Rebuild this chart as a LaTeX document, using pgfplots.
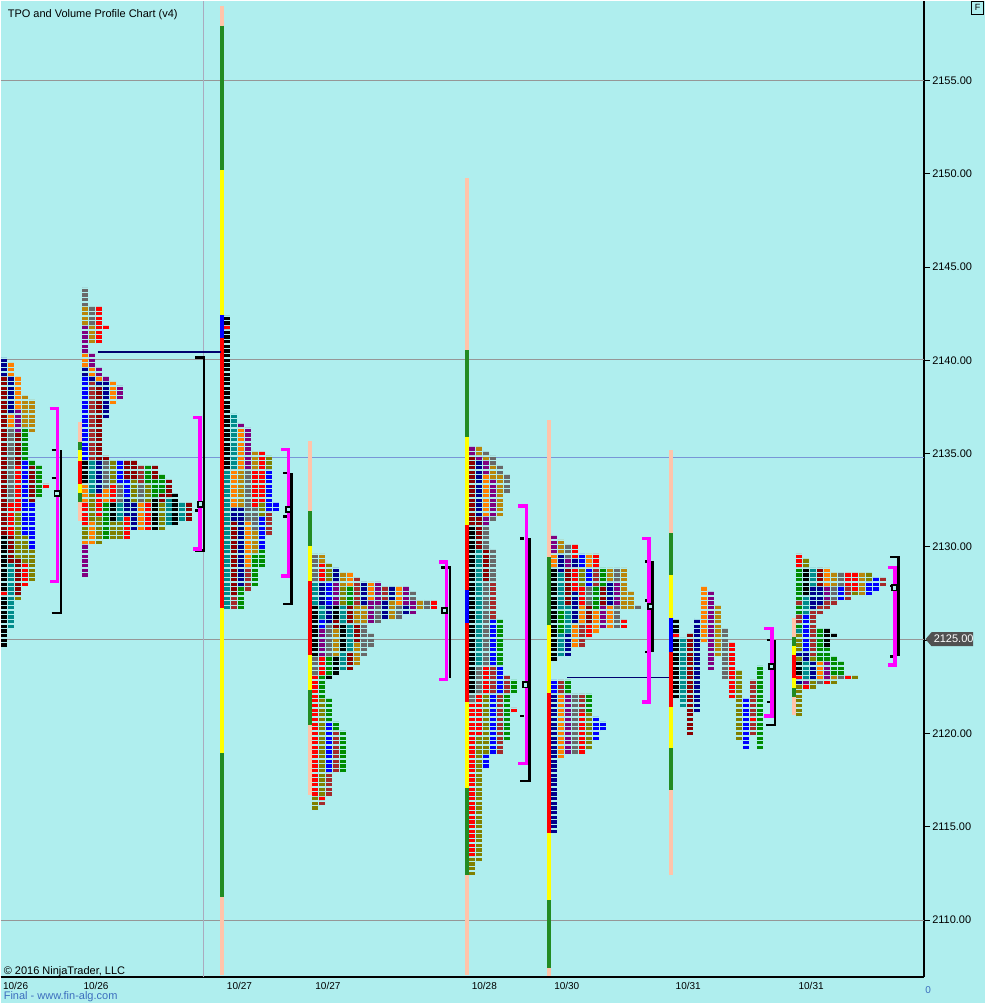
\documentclass[border=0pt]{standalone}
\usepackage{pgfplots}
\pgfplotsset{compat=1.18}
\usepackage{fontspec}
\setmainfont{Liberation Sans}
\definecolor{bg}{RGB}{175,238,238}
\definecolor{cblack}{RGB}{0,0,0}
\definecolor{cteal}{RGB}{0,139,139}
\definecolor{cdarkred}{RGB}{139,0,0}
\definecolor{cnavy}{RGB}{0,0,139}
\definecolor{corange}{RGB}{255,128,0}
\definecolor{cpurple}{RGB}{128,0,128}
\definecolor{cgold}{RGB}{184,134,11}
\definecolor{cgray}{RGB}{105,105,105}
\definecolor{cred}{RGB}{255,0,0}
\definecolor{colive}{RGB}{128,128,0}
\definecolor{cblue}{RGB}{0,0,255}
\definecolor{cbrown}{RGB}{165,42,42}
\definecolor{cgreen}{RGB}{0,140,0}
\definecolor{bgreen}{RGB}{34,139,34}
\definecolor{byellow}{RGB}{255,255,0}
\definecolor{bsalmon}{RGB}{255,196,170}
\definecolor{bmag}{RGB}{255,0,255}
\definecolor{gridgray}{RGB}{150,150,150}
\definecolor{gridblue}{RGB}{120,150,215}
\definecolor{sepline}{RGB}{170,170,190}
\definecolor{pocline}{RGB}{0,0,110}
\definecolor{taggray}{RGB}{80,80,80}
\definecolor{sitecol}{RGB}{60,110,190}

\pgfdeclareplotmark{tpo}{%
  \pgfsetbuttcap
  \pgfsetlinewidth{6bp}%
  \pgfsetdash{{3.3bp}{1.36667bp}}{0bp}%
  \pgfpathmoveto{\pgfqpoint{0bp}{-1.65bp}}%
  \pgfpathlineto{\pgfpoint{0bp}{\tpon*4.66667bp-1.65bp}}%
  \pgfusepathqstroke
}
\pgfplotsset{
  tpo/.style={only marks, scatter, mark=tpo, color=#1,
    scatter/@pre marker code/.code={},
    scatter/@post marker code/.code={},
    visualization depends on={value \thisrow{n}\as\tpon}},
}
\newcommand{\pb}[4]{\addplot[draw=#1, line width=4bp] coordinates {(#2,#3) (#2,#4)};}

\begin{document}
\begin{tikzpicture}
\fill[bg] (0,0) rectangle (985bp,1003bp);
\begin{axis}[at={(0bp,26bp)}, anchor=south west, width=924bp, height=977bp, scale only axis,
  xmin=0, xmax=924, ymin=2106.94643, ymax=2159.28571, clip=false,
  axis x line*=bottom, axis y line*=right, axis line style={-, black, line width=1.2bp},
  ytick={2110,2115,2120,2125,2130,2135,2140,2145,2150,2155},
  yticklabels={2110.00,2115.00,2120.00,2125.00,2130.00,2135.00,2140.00,2145.00,2150.00,2155.00},
  ytick pos=right, yticklabel pos=right,
  major tick length=6bp, tick align=outside,
  y tick style={black, line width=1bp},
  yticklabel style={anchor=west, inner sep=0pt, xshift=2bp, font=\fontsize{11bp}{13bp}\selectfont},
  xtick={15,95.5,239,327.5,484,566.5,688,811},
  xticklabels={10/26,10/26,10/27,10/27,10/28,10/30,10/31,10/31},
  x tick style={draw=none},
  xticklabel style={anchor=base, inner sep=0pt, yshift=-6.3bp, font=\fontsize{10bp}{12bp}\selectfont},
]
% level lines
\addplot[gridgray, line width=1bp] coordinates {(0,2155) (924,2155)};
\addplot[gridgray, line width=1bp] coordinates {(0,2140.04) (924,2140.04)};
\addplot[gridblue, line width=1bp] coordinates {(0,2134.79) (924,2134.79)};
\addplot[gridgray, line width=1bp] coordinates {(0,2125.04) (924,2125.04)};
\addplot[gridgray, line width=1bp] coordinates {(0,2110) (924,2110)};
\addplot[sepline, line width=1bp] coordinates {(203,2106.95) (203,2159.28)};
% period bars
\pb{bsalmon}{79}{2136.7}{2135.6}\pb{bgreen}{79}{2135.6}{2135.2}\pb{byellow}{79}{2135.2}{2134.6}
\pb{cred}{79}{2134.6}{2133.4}\pb{byellow}{79}{2133.4}{2132.9}\pb{bgreen}{79}{2132.9}{2132.4}\pb{bsalmon}{79}{2132.4}{2131.4}
\pb{bsalmon}{222}{2159.0}{2157.95}\pb{bgreen}{222}{2157.95}{2150.18}\pb{byellow}{222}{2150.18}{2142.41}
\pb{cblue}{222}{2142.41}{2141.18}\pb{cred}{222}{2141.18}{2126.71}\pb{byellow}{222}{2126.71}{2118.95}
\pb{bgreen}{222}{2118.95}{2111.23}\pb{bsalmon}{222}{2111.23}{2107.05}
\pb{bsalmon}{310}{2135.66}{2131.91}\pb{bgreen}{310}{2131.91}{2130.04}\pb{byellow}{310}{2130.04}{2128.16}
\pb{cred}{310}{2128.16}{2124.2}\pb{byellow}{310}{2124.2}{2122.32}\pb{bgreen}{310}{2122.32}{2120.45}\pb{bsalmon}{310}{2120.45}{2116.7}
\pb{bsalmon}{467}{2149.75}{2140.54}\pb{bgreen}{467}{2140.54}{2135.88}\pb{byellow}{467}{2135.88}{2131.16}
\pb{cred}{467}{2131.16}{2127.68}\pb{cblue}{467}{2127.68}{2125.91}\pb{cred}{467}{2125.91}{2121.68}
\pb{byellow}{467}{2121.68}{2117.07}\pb{bgreen}{467}{2117.07}{2112.41}\pb{bsalmon}{467}{2112.41}{2107.05}
\pb{bsalmon}{549}{2136.79}{2129.45}\pb{bgreen}{549}{2129.45}{2125.8}\pb{byellow}{549}{2125.8}{2122.16}
\pb{cred}{549}{2122.16}{2114.66}\pb{byellow}{549}{2114.66}{2111.07}\pb{bgreen}{549}{2111.07}{2107.43}\pb{bsalmon}{549}{2107.43}{2107.0}
\pb{bsalmon}{671}{2135.18}{2130.73}\pb{bgreen}{671}{2130.73}{2128.48}\pb{byellow}{671}{2128.48}{2126.18}
\pb{cblue}{671}{2126.18}{2124.36}\pb{cred}{671}{2124.36}{2121.41}\pb{byellow}{671}{2121.41}{2119.21}
\pb{bgreen}{671}{2119.21}{2116.96}\pb{bsalmon}{671}{2116.96}{2112.41}
\pb{bsalmon}{794}{2126.18}{2125.16}\pb{bgreen}{794}{2125.16}{2124.68}\pb{byellow}{794}{2124.68}{2124.2}
\pb{cred}{794}{2124.2}{2122.96}\pb{byellow}{794}{2122.96}{2122.43}\pb{bgreen}{794}{2122.43}{2121.95}\pb{bsalmon}{794}{2121.95}{2120.98}
% TPO cells: x = column centre, y = lowest price of run, n = cells
\addplot[tpo=cblack] table[row sep=\\]{x y n\\
3.5 2124.75 11\\ 3.5 2127.75 12\\ 84 2133.5 5\\ 112 2131.5 4\\ 154 2131.0 7\\ 175 2131.25 7\\
227 2134.25 30\\ 227 2142.0 2\\ 315 2124.25 11\\ 329 2123.0 1\\ 336 2123.25 4\\ 336 2126.25 3\\
343 2124.5 6\\ 472 2122.25 36\\ 554 2124.0 20\\ 676 2122.0 13\\ 676 2125.5 3\\ 799 2123.25 3\\
806 2127.5 6\\ 827 2124.75 4\\ 834 2125.25 1\\};
\addplot[tpo=cteal] table[row sep=\\]{x y n\\
10.5 2125.75 14\\ 91 2133.0 7\\ 119 2131.5 4\\ 168 2131.25 6\\ 182 2131.5 4\\ 227 2126.75 30\\
234 2134.25 12\\ 315 2127.0 5\\ 322 2126.25 3\\ 343 2123.5 4\\ 343 2126.0 4\\ 350 2124.5 6\\
479 2123.75 25\\ 561 2124.25 5\\ 561 2126.75 8\\ 568 2125.5 6\\ 683 2121.5 15\\ 799 2125.5 1\\
806 2123.0 4\\ 806 2126.5 4\\ 813 2128.0 4\\};
\addplot[tpo=cdarkred] table[row sep=\\]{x y n\\
3.5 2130.75 34\\ 10.5 2129.25 6\\ 17.5 2127.5 8\\ 17.5 2134.5 7\\ 31.5 2132.5 8\\ 98 2134.75 16\\
105 2134.75 1\\ 126 2133.75 4\\ 133 2133.75 4\\ 154 2133.75 3\\ 161 2132.5 2\\ 168 2132.75 4\\
189 2131.5 4\\ 234 2127.5 16\\ 336 2125.75 2\\ 350 2123.5 4\\ 350 2126.0 4\\ 357 2125.0 4\\
472 2131.25 15\\ 479 2130.0 7\\ 486 2128.25 7\\ 568 2127.0 8\\ 589 2126.0 4\\ 603 2127.0 4\\
690 2120.0 22\\ 820 2128.0 4\\};
\addplot[tpo=cnavy] table[row sep=\\]{x y n\\
3.5 2139.25 4\\ 10.5 2137.25 8\\ 84 2139.25 2\\ 91 2139.0 1\\ 98 2133.0 7\\ 98 2138.75 1\\
105 2137.0 8\\ 126 2131.75 4\\ 133 2131.0 6\\ 234 2131.5 3\\ 241 2128.0 17\\ 322 2127.0 5\\
329 2126.0 4\\ 336 2128.25 3\\ 364 2127.0 5\\ 385 2126.25 4\\ 392 2127.25 3\\ 406 2126.5 2\\
479 2131.75 12\\ 554 2114.75 30\\ 568 2124.25 5\\ 575 2126.0 7\\ 575 2129.0 2\\ 561 2128.75 4\\
610 2127.0 5\\ 697 2121.25 20\\ 799 2122.75 1\\ 799 2124.25 1\\ 806 2124.0 2\\ 813 2123.0 4\\
813 2126.75 5\\ 820 2127.0 4\\};
\addplot[tpo=corange] table[row sep=\\]{x y n\\
10.5 2139.25 3\\ 10.5 2136.5 3\\ 17.5 2137.5 7\\ 84 2130.25 1\\ 84 2132.5 4\\ 84 2139.75 3\\
91 2130.25 5\\ 91 2139.25 2\\ 98 2139.0 1\\ 105 2132.5 3\\ 112 2137.75 5\\ 140 2131.0 6\\
234 2132.25 8\\ 241 2134.25 9\\ 248 2129.0 10\\ 350 2128.0 3\\ 371 2127.25 4\\ 399 2127.0 4\\
486 2131.75 9\\ 554 2129.0 3\\ 561 2118.75 14\\ 575 2124.75 5\\ 582 2126.0 4\\ 589 2129.0 3\\
596 2125.5 5\\ 610 2125.75 5\\ 704 2125.0 12\\ 820 2123.0 4\\ 827 2128.0 4\\};
\addplot[tpo=cpurple] table[row sep=\\]{x y n\\
17.5 2136.25 5\\ 84 2128.5 7\\ 84 2140.5 6\\ 91 2139.75 3\\ 98 2139.25 2\\ 105 2139.0 1\\
119 2138.0 3\\ 241 2136.5 1\\ 248 2134.25 9\\ 322 2124.25 6\\ 336 2127.0 5\\ 371 2126.0 5\\
378 2127.0 5\\ 406 2127.0 4\\ 413 2126.5 3\\ 472 2135.0 2\\ 479 2134.75 1\\ 486 2131.25 2\\
486 2134.0 3\\ 493 2131.75 8\\ 554 2129.75 4\\ 568 2119.0 13\\ 568 2129.0 2\\ 603 2125.75 5\\
617 2127.0 5\\ 711 2123.5 17\\ 806 2122.75 1\\ 827 2123.0 4\\ 827 2127.25 3\\};
\addplot[tpo=cgold] table[row sep=\\]{x y n\\
24.5 2136.5 7\\ 31.5 2136.25 7\\ 84 2142.0 4\\ 91 2141.0 4\\ 241 2132.25 8\\ 255 2129.75 5\\
255 2134.25 4\\ 322 2129.25 2\\ 336 2124.25 6\\ 343 2128.0 3\\ 357 2123.75 5\\ 357 2126.0 4\\
364 2126.0 4\\ 392 2126.25 4\\ 420 2126.75 2\\ 479 2135.0 2\\ 486 2134.75 1\\ 493 2133.75 3\\
500 2131.75 9\\ 561 2129.75 3\\ 610 2128.25 3\\ 624 2126.75 9\\ 631 2126.75 4\\ 718 2124.25 11\\
834 2123.0 1\\ 834 2128.0 3\\ 862 2127.5 5\\};
\addplot[tpo=cgray] table[row sep=\\]{x y n\\
10.5 2132.5 16\\ 84 2143.0 4\\ 91 2142.0 4\\ 105 2133.25 6\\ 119 2132.5 4\\ 140 2132.5 4\\
248 2131.5 11\\ 255 2131.0 5\\ 315 2123.25 4\\ 315 2128.25 6\\ 329 2124.25 7\\ 364 2124.25 7\\
371 2124.75 3\\ 378 2126.0 4\\ 399 2126.25 3\\ 413 2127.25 2\\ 427 2126.75 2\\ 472 2121.75 2\\
479 2122.25 6\\ 486 2123.75 18\\ 486 2130.0 5\\ 486 2135.0 1\\ 493 2128.25 7\\ 493 2131.5 1\\
493 2134.5 2\\ 500 2134.0 2\\ 507 2133.0 4\\ 568 2129.5 3\\ 575 2119.0 13\\ 589 2127.0 4\\
617 2125.75 5\\ 617 2128.25 3\\ 638 2126.75 1\\ 725 2123.0 11\\ 820 2122.75 1\\ 834 2127.25 3\\
841 2123.0 1\\ 841 2128.0 3\\};
\addplot[tpo=cred] table[row sep=\\]{x y n\\
3.5 2127.5 1\\ 10.5 2130.75 7\\ 17.5 2132.0 10\\ 24.5 2128.0 5\\ 45.5 2133.25 1\\ 84 2131.25 5\\
98 2131.75 5\\ 98 2141.0 8\\ 105 2141.75 1\\ 112 2132.5 4\\ 126 2130.5 5\\ 147 2131.0 6\\
227 2141.75 1\\ 255 2132.25 8\\ 262 2132.5 11\\ 315 2116.75 26\\ 322 2116.5 1\\ 322 2123.25 4\\
322 2128.25 4\\ 434 2126.75 2\\ 472 2113.5 33\\ 479 2120.0 9\\ 486 2122.25 6\\ 514 2121.25 1\\
575 2127.75 5\\ 575 2129.5 3\\ 582 2119.0 9\\ 582 2127.0 4\\ 589 2125.25 3\\ 596 2129.0 3\\
624 2125.75 2\\ 676 2125.25 1\\ 732 2122.0 12\\ 753 2120.75 1\\ 799 2123.0 1\\ 799 2129.0 3\\
806 2122.5 1\\ 827 2122.75 1\\ 848 2123.0 1\\ 848 2128.0 3\\ 855 2127.75 4\\};
\addplot[tpo=colive] table[row sep=\\]{x y n\\
17.5 2127.25 1\\ 17.5 2129.5 10\\ 24.5 2129.25 6\\ 31.5 2128.25 7\\ 84 2130.5 3\\ 91 2131.5 6\\
98 2130.25 6\\ 112 2130.5 4\\ 112 2133.5 5\\ 119 2130.5 4\\ 133 2132.5 5\\ 147 2132.5 4\\
161 2131.0 6\\ 262 2131.75 3\\ 269 2134.25 3\\ 315 2116.0 3\\ 322 2116.75 21\\ 329 2128.25 4\\
343 2127.0 4\\ 472 2112.5 4\\ 479 2113.25 27\\ 486 2119.0 13\\ 582 2128.0 4\\ 589 2119.25 8\\
739 2119.75 15\\ 799 2121.0 7\\ 799 2124.0 1\\ 799 2124.5 4\\ 806 2129.0 2\\ 813 2122.5 2\\
813 2124.0 1\\ 834 2122.75 1\\ 855 2123.0 1\\ 855 2127.5 1\\ 869 2128.25 2\\};
\addplot[tpo=cblue] table[row sep=\\]{x y n\\
24.5 2130.75 16\\ 31.5 2130.0 10\\ 84 2134.75 18\\ 119 2133.5 5\\ 126 2132.75 4\\ 262 2130.0 7\\
269 2132.0 9\\ 276 2132.0 2\\ 322 2125.75 2\\ 329 2118.0 11\\ 329 2127.0 5\\ 486 2118.25 3\\
493 2119.0 13\\ 493 2123.75 10\\ 500 2122.25 6\\ 554 2122.25 3\\ 582 2129.0 3\\ 589 2128.0 4\\
596 2119.75 5\\ 603 2120.25 2\\ 746 2119.25 11\\ 806 2124.5 8\\ 841 2127.25 3\\ 869 2127.5 3\\
876 2127.75 3\\};
\addplot[tpo=cbrown] table[row sep=\\]{x y n\\
91 2134.75 17\\ 140 2133.5 4\\ 234 2126.75 3\\ 248 2127.75 5\\ 269 2130.75 5\\ 322 2116.25 1\\
329 2116.75 5\\ 336 2118.0 9\\ 357 2127.0 6\\ 385 2127.25 3\\ 493 2122.25 6\\ 493 2126.25 8\\
500 2119.0 13\\ 507 2122.25 4\\ 561 2122.25 3\\ 582 2121.25 4\\ 582 2124.75 5\\ 596 2128.0 4\\
753 2120.0 3\\ 753 2121.0 8\\ 799 2126.0 2\\ 799 2127.0 1\\ 813 2124.25 10\\ 820 2126.5 2\\
827 2126.75 2\\ 834 2127.0 1\\ 848 2127.25 3\\ 883 2128.0 2\\};
\addplot[tpo=cgreen] table[row sep=\\]{x y n\\
24.5 2134.75 7\\ 31.5 2134.5 1\\ 38.5 2132.75 7\\ 105 2130.5 8\\ 147 2133.5 4\\ 154 2132.75 4\\
161 2133.0 4\\ 241 2126.75 5\\ 255 2128.0 7\\ 262 2129.0 4\\ 322 2122.0 5\\ 329 2120.75 5\\
329 2123.25 4\\ 336 2120.25 2\\ 343 2118.0 9\\ 350 2127.0 4\\ 500 2123.75 10\\ 507 2119.75 10\\
514 2122.25 3\\ 561 2125.5 5\\ 568 2122.25 3\\ 589 2121.25 4\\ 596 2126.75 5\\ 603 2128.0 4\\
760 2119.25 18\\ 799 2125.75 1\\ 799 2126.5 2\\ 799 2127.25 7\\ 820 2124.0 7\\ 827 2124.0 3\\
834 2123.25 4\\ 841 2123.25 3\\};
% naked POC lines
\addplot[pocline, line width=1.3bp] coordinates {(97,2140.45) (221,2140.45)};
\addplot[pocline, line width=1.3bp] coordinates {(567,2123.0) (669,2123.0)};
% black value-area brackets
\addplot[black, line width=2.5bp] coordinates {(51,2126.45) (60.5,2126.45) (60.5,2135.2)};
\addplot[black, line width=2.5bp] coordinates {(51,2135.2) (56,2135.2)};
\addplot[black, line width=2.5bp] coordinates {(51,2133.7) (56,2133.7)};
\addplot[black, line width=2.5bp] coordinates {(195,2140.15) (203.5,2140.15) (203.5,2129.8) (195,2129.8)};
\addplot[black, line width=2.5bp] coordinates {(195,2131.96) (199,2131.96)};
\addplot[black, line width=2.5bp] coordinates {(283,2126.93) (291,2126.93) (291,2133.95)};
\addplot[black, line width=2.5bp] coordinates {(283,2133.95) (287,2133.95)};
\addplot[black, line width=2.5bp] coordinates {(283,2131.64) (287,2131.64)};
\addplot[black, line width=2.5bp] coordinates {(441,2128.9) (449.5,2128.9) (449.5,2122.95)};
\addplot[black, line width=2.5bp] coordinates {(520,2117.45) (529,2117.45) (529,2130.46)};
\addplot[black, line width=2.5bp] coordinates {(520,2130.46) (524,2130.46)};
\addplot[black, line width=2.5bp] coordinates {(520,2120.94) (524,2120.94)};
\addplot[black, line width=2.5bp] coordinates {(652.5,2129.23) (652.5,2124.36)};
\addplot[black, line width=2.5bp] coordinates {(645,2129.23) (649,2129.23)};
\addplot[black, line width=2.5bp] coordinates {(645,2127.14) (649,2127.14)};
\addplot[black, line width=2.5bp] coordinates {(645,2124.36) (649,2124.36)};
\addplot[black, line width=2.5bp] coordinates {(766,2120.45) (775,2120.45) (775,2125.0)};
\addplot[black, line width=2.5bp] coordinates {(767,2125.0) (771,2125.0)};
\addplot[black, line width=2.5bp] coordinates {(767,2121.68) (771,2121.68)};
\addplot[black, line width=2.5bp] coordinates {(890,2129.45) (898.5,2129.45) (898.5,2124.14)};
\addplot[black, line width=2.5bp] coordinates {(890,2127.9) (894,2127.9)};
\addplot[black, line width=2.5bp] coordinates {(890,2124.14) (894,2124.14)};
% magenta brackets
\addplot[bmag, line width=3.5bp] coordinates {(49,2137.42) (57,2137.42) (57,2128.15) (49,2128.15)};
\addplot[bmag, line width=3.5bp] coordinates {(193,2136.95) (199.5,2136.95) (199.5,2129.9) (193,2129.9)};
\addplot[bmag, line width=3.5bp] coordinates {(281,2135.23) (288,2135.23) (288,2128.43) (281,2128.43)};
\addplot[bmag, line width=3.5bp] coordinates {(439,2129.18) (446,2129.18) (446,2122.9) (439,2122.9)};
\addplot[bmag, line width=3.5bp] coordinates {(518,2132.2) (526,2132.2) (526,2118.4) (518,2118.4)};
\addplot[bmag, line width=3.5bp] coordinates {(642,2130.46) (649,2130.46) (649,2121.68) (642,2121.68)};
\addplot[bmag, line width=3.5bp] coordinates {(764,2125.64) (772,2125.64) (772,2120.93) (764,2120.93)};
\addplot[bmag, line width=3.5bp] coordinates {(888,2128.9) (895,2128.9) (895,2123.66) (888,2123.66)};
% POC boxes
\addplot[only marks, mark=square*, mark size=2.6bp, mark options={draw=black, fill=bg, line width=1.8bp}]
  coordinates {(56.5,2132.85) (200,2132.3) (288,2132.0) (444,2126.6) (525.5,2122.6) (650,2126.8) (771.5,2123.6) (894.5,2127.8)};
\end{axis}
% price tag
\fill[taggray] (925.5bp,364bp) -- (931.5bp,371bp) -- (973bp,371bp) -- (973bp,357bp) -- (931.5bp,357bp) -- cycle;
\node[anchor=west, inner sep=0pt, text=white, font=\fontsize{11bp}{13bp}\selectfont] at (933.5bp,364bp) {2125.00};
% texts
\node[anchor=base west, inner sep=0pt, font=\fontsize{11bp}{13bp}\selectfont] at (7bp,986.5bp) {TPO and Volume Profile Chart (v4)};
\node[anchor=base west, inner sep=0pt, font=\fontsize{11bp}{13bp}\selectfont] at (3bp,29bp) {\textcopyright{} 2016 NinjaTrader, LLC};
\node[anchor=base west, inner sep=0pt, text=sitecol, font=\fontsize{11bp}{13bp}\selectfont] at (3bp,3.5bp) {Final - www.fin-alg.com};
\node[anchor=base, inner sep=0pt, text=sitecol, font=\fontsize{10bp}{12bp}\selectfont] at (928bp,10bp) {0};
\draw[black, line width=1bp, fill=bg] (971.5bp,989.5bp) rectangle (983.5bp,1002.5bp);
\node[inner sep=0pt, font=\fontsize{9bp}{11bp}\selectfont] at (977.5bp,996bp) {F};
\end{tikzpicture}
\end{document}
